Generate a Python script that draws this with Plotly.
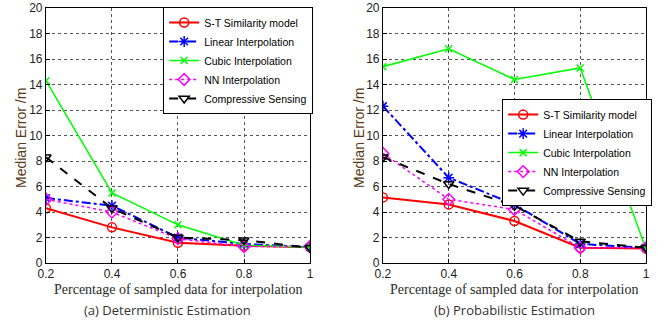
import plotly.graph_objects as go

x_vals = [0.2, 0.4, 0.6, 0.8, 1.0]
series_names = ["S-T Similarity model", "Linear Interpolation", "Cubic Interpolation",
                "NN Interpolation", "Compressive Sensing"]

det_st = [4.3, 2.8, 1.6, 1.35, 1.25]
det_linear = [5.1, 4.5, 2.0, 1.5, 1.25]
det_cubic = [14.3, 5.5, 3.0, 1.4, 1.25]
det_nn = [5.0, 4.0, 1.9, 1.3, 1.3]
det_cs = [8.3, 4.3, 2.0, 1.8, 1.2]

prob_st = [5.15, 4.6, 3.3, 1.2, 1.15]
prob_linear = [12.3, 6.7, 4.6, 1.5, 1.2]
prob_cubic = [15.4, 16.8, 14.4, 15.3, 1.1]
prob_nn = [8.6, 5.0, 4.2, 1.2, 1.2]
prob_cs = [8.3, 6.2, 4.5, 1.7, 1.2]

x_ticks = [0.2, 0.4, 0.6, 0.8, 1.0]
x_tick_text = ["0.2", "0.4", "0.6", "0.8", "1"]
y_ticks = [0, 2, 4, 6, 8, 10, 12, 14, 16, 18, 20]

styles = [
    dict(color="#ff0000", dash="solid", symbol="circle-open", width=2, size=9),
    dict(color="#0000ff", dash="dashdot", symbol="asterisk-open", width=2, size=9),
    dict(color="#00ff00", dash="solid", symbol="x-thin-open", width=1.5, size=7),
    dict(color="#ff00ff", dash="dot", symbol="diamond-open", width=1.5, size=9),
    dict(color="#000000", dash="dash", symbol="triangle-down-open", width=2, size=9),
]

fig = go.Figure()

panels = [
    ("x", "y", "legend", [det_st, det_linear, det_cubic, det_nn, det_cs]),
    ("x2", "y2", "legend2", [prob_st, prob_linear, prob_cubic, prob_nn, prob_cs]),
]
for xa, ya, lg, data in panels:
    for name, vals, st in zip(series_names, data, styles):
        fig.add_trace(go.Scatter(
            x=x_vals, y=vals, name=name, xaxis=xa, yaxis=ya, legend=lg,
            mode="lines+markers",
            line=dict(color=st["color"], dash=st["dash"], width=st["width"]),
            marker=dict(symbol=st["symbol"], size=st["size"], color=st["color"],
                        line=dict(color=st["color"], width=1.5)),
        ))

axis_common = dict(
    showline=True, linecolor="#000000", linewidth=1, mirror=True,
    showgrid=True, gridcolor="#555555", griddash="dot", gridwidth=1,
    ticks="inside", ticklen=4, tickcolor="#000000",
    tickfont=dict(family="Liberation Sans, Arial", size=12, color="#222222"),
    zeroline=False, automargin=False,
)

ydom = [0.193, 0.9755]
legend_common = dict(
    xanchor="left", yanchor="top",
    bgcolor="#ffffff", bordercolor="#000000", borderwidth=1,
    font=dict(family="Liberation Sans, Arial", size=10.5, color="#000000"),
    tracegroupgap=0, itemwidth=30,
)
fig.update_layout(
    width=666, height=326,
    margin=dict(l=0, r=0, t=0, b=0, autoexpand=False),
    paper_bgcolor="#ffffff", plot_bgcolor="#ffffff",
    xaxis=dict(domain=[0.069, 0.4655], range=[0.2, 1.0], tickvals=x_ticks,
               ticktext=x_tick_text, anchor="y", **axis_common),
    yaxis=dict(domain=ydom, range=[0, 20], tickvals=y_ticks, anchor="x", **axis_common),
    xaxis2=dict(domain=[0.575, 0.970], range=[0.2, 1.0], tickvals=x_ticks,
                ticktext=x_tick_text, anchor="y2", **axis_common),
    yaxis2=dict(domain=ydom, range=[0, 20], tickvals=y_ticks, anchor="x2", **axis_common),
    legend=dict(x=0.245, y=0.9785, **legend_common),
    legend2=dict(x=0.754, y=0.696, **legend_common),
    showlegend=True,
)

ytitle_font = dict(family="Liberation Sans, Arial", size=14, color="#5a3a14")
xtitle_font = dict(family="Liberation Serif, DejaVu Serif, serif", size=14, color="#2a2a2a")
sub_font = dict(family="Open Sans, Noto Sans, sans-serif", size=13, color="#333333")

for cx, ytx in [(0.2675, 21), (0.7725, 359)]:
    fig.add_annotation(text="Median Error /m", xref="paper", yref="paper",
                       x=ytx / 666, y=1 - 138 / 326, textangle=-90, showarrow=False,
                       font=ytitle_font, xanchor="center", yanchor="middle")
    fig.add_annotation(text="Percentage of sampled data for interpolation",
                       xref="paper", yref="paper", x=cx, y=1 - 289 / 326,
                       showarrow=False, font=xtitle_font, xanchor="center", yanchor="middle")

fig.add_annotation(text="(a) Deterministic Estimation", xref="paper", yref="paper",
                   x=168 / 666, y=1 - 310 / 326, showarrow=False, font=sub_font,
                   xanchor="center", yanchor="middle")
fig.add_annotation(text="(b) Probabilistic Estimation", xref="paper", yref="paper",
                   x=514 / 666, y=1 - 310 / 326, showarrow=False, font=sub_font,
                   xanchor="center", yanchor="middle")

fig.write_html("out.html", config={"displayModeBar": False},
               post_script="document.body.style.margin='0px';")
